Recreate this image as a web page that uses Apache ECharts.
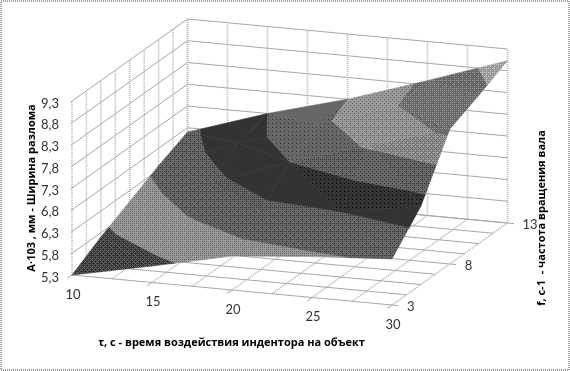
<!DOCTYPE html>
<html><head><meta charset="utf-8">
<style>html,body{margin:0;padding:0;background:#fff}#c{width:570px;height:371px}</style>
<script src="https://cdn.jsdelivr.net/npm/echarts@6/dist/echarts.min.js"></script>
</head><body><div id="c"></div>
<script>
// ---- data ----
const tauValues = [10, 15, 20, 25, 30];
const freqValues = [3, 5.5, 8, 10.5, 13];
const widthF3 = [5.30, 5.68, 6.08, 6.24, 6.36];
const widthF55 = [5.70, 6.22, 6.67, 6.80, 7.10];
const widthF8 = [6.05, 6.66, 7.30, 7.86, 8.40];
const widthF105 = [6.40, 7.08, 7.70, 8.30, 8.70];
const widthF13 = [6.70, 7.30, 7.80, 8.40, 9.03];
const widthRows = [widthF3, widthF55, widthF8, widthF105, widthF13];
const tauGrid = [10, 12.5, 15, 17.5, 20, 22.5, 25, 27.5, 30];
const freqGrid = [3, 4.25, 5.5, 6.75, 8, 9.25, 10.5, 11.75, 13];
const widthLevels = [5.3, 5.8, 6.3, 6.8, 7.3, 7.8, 8.3, 8.8, 9.3];
const widthLabels = ['5,3', '5,8', '6,3', '6,8', '7,3', '7,8', '8,3', '8,8', '9,3'];
const tauTicks = [10, 15, 20, 25, 30];
const freqTicks = [3, 8, 13];
const xTitle = 'τ, с - время воздействия индентора на объект';
const yTitle = 'А·103 , мм - Ширина разлома';
const zTitle = 'f, с-1  - частота вращения вала';
// band fill levels, low to high
const bandGrays = [70, 142, 94, 52, 100, 146, 112, 165];

// ---- oblique projection of the 3D box onto the plane ----
const O = [72, 275], EU = [320, 30], EV = [115.5, -82], H = 174;
function project(t, f, a) {
  const u = (t - 10) / 20, v = (f - 3) / 10, w = (a - 5.3) / 4;
  return [O[0] + EU[0] * u + EV[0] * v, O[1] + EU[1] * u + EV[1] * v - H * w];
}

// ---- dither patterns (web-palette look of the reference) ----
const bayer = [[0,32,8,40,2,34,10,42],[48,16,56,24,50,18,58,26],[12,44,4,36,14,46,6,38],[60,28,52,20,62,30,54,22],
               [3,35,11,43,1,33,9,41],[51,19,59,27,49,17,57,25],[15,47,7,39,13,45,5,37],[63,31,55,23,61,29,53,21]];
const patternCache = {};
function grayPattern(g) {
  g = Math.max(0, Math.min(255, Math.round(g / 3) * 3));
  if (patternCache[g]) return patternCache[g];
  const cv = document.createElement('canvas'); cv.width = cv.height = 8;
  const cx = cv.getContext('2d');
  const lo = Math.floor(g / 51) * 51, fr = (g - lo) / 51;
  for (let y = 0; y < 8; y++) for (let x = 0; x < 8; x++) {
    const p = fr > (bayer[y][x] + 0.5) / 64 ? lo + 51 : lo;
    cx.fillStyle = 'rgb(' + p + ',' + p + ',' + p + ')';
    cx.fillRect(x, y, 1, 1);
  }
  return (patternCache[g] = { image: cv, repeat: 'repeat' });
}

// ---- clip surface triangles into value bands ----
function clip(poly, limit, keepAbove) {
  const out = [];
  for (let i = 0; i < poly.length; i++) {
    const p = poly[i], q = poly[(i + 1) % poly.length];
    const pin = keepAbove ? p[2] >= limit : p[2] <= limit;
    const qin = keepAbove ? q[2] >= limit : q[2] <= limit;
    if (pin) out.push(p);
    if (pin !== qin) {
      const s = (limit - p[2]) / (q[2] - p[2]);
      out.push([p[0] + (q[0] - p[0]) * s, p[1] + (q[1] - p[1]) * s, limit]);
    }
  }
  return out;
}
const surfacePieces = [];
function addTriangle(a, b, c) {
  const du = [(b[0] - a[0]) / 20, (b[1] - a[1]) / 10, b[2] - a[2]];
  const dv = [(c[0] - a[0]) / 20, (c[1] - a[1]) / 10, c[2] - a[2]];
  const nx = du[1] * dv[2] - du[2] * dv[1], ny = du[2] * dv[0] - du[0] * dv[2], nz = du[0] * dv[1] - du[1] * dv[0];
  const grad = Math.sqrt(nx * nx + ny * ny) / Math.abs(nz);
  const shade = 1.06 - 0.025 * grad;
  for (let b0 = 0; b0 < bandGrays.length; b0++) {
    let poly = clip([a, b, c], widthLevels[b0], true);
    if (poly.length) poly = clip(poly, widthLevels[b0 + 1], false);
    if (poly.length > 2) surfacePieces.push({ pts: poly.map(p => project(p[0], p[1], p[2])), gray: bandGrays[b0] * shade });
  }
}
for (let j = 0; j < freqValues.length - 1; j++) for (let i = 0; i < tauValues.length - 1; i++) {
  const n = (ii, jj) => [tauValues[ii], freqValues[jj], widthRows[jj][ii]];
  addTriangle(n(i, j), n(i + 1, j), n(i, j + 1));
  addTriangle(n(i + 1, j + 1), n(i, j + 1), n(i + 1, j));
}

// ---- box grid ----
const T0 = 10, T1 = 30, F0 = 3, F1 = 13, A0 = 5.3, A1 = 9.3;
const gridLines = [];
const solid = { stroke: '#a8a8a8', lineWidth: 1 }, dotted = { stroke: '#b4b4b4', lineWidth: 1.6, lineDash: [1, 1] };
widthLevels.forEach(a => {
  gridLines.push({ pts: [project(T0, F0, a), project(T0, F1, a), project(T1, F1, a)], style: solid });
});
tauGrid.forEach(t => {
  gridLines.push({ pts: [project(t, F1, A0), project(t, F1, A1)], style: dotted });
  gridLines.push({ pts: [project(t, F0, A0), project(t, F1, A0)], style: dotted });
});
freqGrid.forEach(f => {
  gridLines.push({ pts: [project(T0, f, A0), project(T0, f, A1)], style: dotted });
  gridLines.push({ pts: [project(T0, f, A0), project(T1, f, A0)], style: solid });
});
tauTicks.forEach(t => gridLines.push({ pts: [project(t, F0, A0), project(t, F0 - 0.4, A0)], style: solid }));
freqTicks.forEach(f => gridLines.push({ pts: [project(T1, f, A0), project(T1 + 0.4, f, A0)], style: solid }));
widthLevels.forEach(a => gridLines.push({ pts: [project(T0, F0, a), project(T0, F0 - 0.1, a)], style: solid }));

// ---- labels ----
const tickFont = '13px Lato, "Open Sans", sans-serif';
const titleFont = 'bold 11px "Open Sans", Lato, sans-serif';
const texts = [];
widthLevels.forEach((a, i) => { const p = project(T0, F0, a); texts.push({ x: p[0] - 13, y: p[1] + 2.5, text: widthLabels[i], align: 'right', font: tickFont, fill: '#333' }); });
tauTicks.forEach(t => { const p = project(t, F0, A0); texts.push({ x: p[0] + 1, y: p[1] + 19.5, text: String(t), align: 'center', font: tickFont, fill: '#333' }); });
freqTicks.forEach(f => { const p = project(T1, f, A0); texts.push({ x: p[0] + 15, y: p[1] + 1.5, text: String(f), align: 'left', font: tickFont, fill: '#333' }); });
texts.push({ x: 231.5, y: 343, text: xTitle, align: 'center', font: titleFont, fill: '#000' });
texts.push({ x: 32, y: 188, text: yTitle, align: 'center', font: titleFont, fill: '#000', rotation: Math.PI / 2 });
texts.push({ x: 542, y: 218, text: zTitle, align: 'center', font: titleFont, fill: '#000', rotation: Math.PI / 2 });

const pick = arr => arr.map((_, i) => i);
const chart = echarts.init(document.getElementById('c'), null, { renderer: 'canvas' });
chart.setOption({
  animation: false,
  backgroundColor: '#fff',
  grid: { left: 0, right: 0, top: 0, bottom: 0 },
  xAxis: { type: 'value', min: 0, max: 570, show: false },
  yAxis: { type: 'value', min: 0, max: 371, inverse: true, show: false },
  series: [
    { type: 'custom', silent: true, clip: false, z: 1, data: pick(gridLines),
      renderItem: (params, api) => {
        const g = gridLines[params.dataIndex];
        return { type: 'polyline', shape: { points: g.pts.map(p => api.coord(p)) }, style: Object.assign({ fill: null }, g.style) };
      } },
    { type: 'custom', silent: true, clip: false, z: 2, data: pick(surfacePieces),
      renderItem: (params, api) => {
        const s = surfacePieces[params.dataIndex], pat = grayPattern(s.gray);
        return { type: 'polygon', shape: { points: s.pts.map(p => api.coord(p)) }, style: { fill: pat, stroke: pat, lineWidth: 0.6 } };
      } },
    { type: 'custom', silent: true, clip: false, z: 3, data: pick(texts),
      renderItem: (params, api) => {
        const t = texts[params.dataIndex], c = api.coord([t.x, t.y]);
        return { type: 'text', x: c[0], y: c[1], rotation: t.rotation || 0,
          style: { text: t.text, x: 0, y: 0, align: t.align, verticalAlign: 'middle', font: t.font, fill: t.fill } };
      } },
    { type: 'custom', silent: true, clip: false, z: 4, data: [0],
      renderItem: () => ({ type: 'rect', shape: { x: 1, y: 1, width: 568, height: 369 },
        style: { fill: null, stroke: '#808080', lineWidth: 1.5, lineDash: [1, 1] } }) }
  ]
});
</script></body></html>
